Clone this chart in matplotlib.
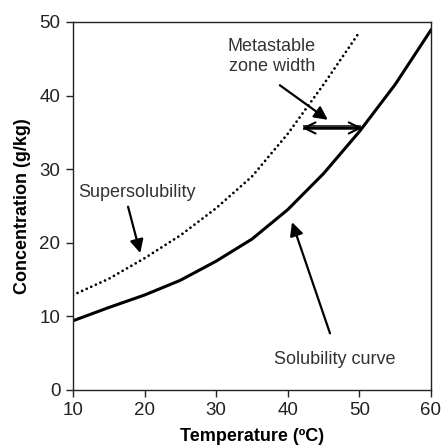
import numpy as np
import matplotlib
matplotlib.use("Agg")
import matplotlib.pyplot as plt

plt.rcParams['font.family'] = ['Liberation Sans', 'DejaVu Sans']

# solubility curve (solid)
sol_t = [10, 15, 20, 25, 30, 35, 40, 45, 50, 55, 60]
sol_c = [9.4, 11.2, 12.9, 14.9, 17.5, 20.5, 24.5, 29.4, 35.1, 41.5, 48.9]

# supersolubility curve (dotted)
sup_t = [10, 15, 20, 25, 30, 35, 40, 45, 50]
sup_c = [12.9, 15.1, 17.9, 21.0, 24.7, 29.0, 34.8, 41.5, 48.6]

x_ticks = [10, 20, 30, 40, 50, 60]
y_ticks = [0, 10, 20, 30, 40, 50]

fig = plt.figure(figsize=(4.42, 4.48), dpi=100)
ax = fig.add_axes([0.165, 0.1295, 0.81, 0.8215])

ax.plot(sol_t, sol_c, color='black', lw=2.2, solid_joinstyle='round')
ax.plot(sup_t, sup_c, color='black', lw=2.0, linestyle=(0, (0.01, 1.8)),
        dash_capstyle='round')

ax.set_xlim(10, 60)
ax.set_ylim(0, 50)
ax.set_xticks(x_ticks)
ax.set_yticks(y_ticks)
ax.tick_params(direction='out', length=5, width=1, labelsize=13.5, colors='#222222', pad=4)
for s in ax.spines.values():
    s.set_linewidth(1)
    s.set_color('#222222')

ax.set_xlabel('Temperature (ºC)', fontsize=13, fontweight='bold', labelpad=6)
ax.set_ylabel('Concentration (g/kg)', fontsize=13, fontweight='bold', labelpad=6)

tc = '#333333'
arr = dict(arrowstyle='-|>', color='black', lw=1.6, mutation_scale=20, shrinkA=0, shrinkB=0)

ax.text(37.8, 45.3, 'Metastable\nzone width', ha='center', va='center', fontsize=13,
        color=tc, linespacing=1.25)
ax.annotate('', xy=(45.6, 36.7), xytext=(38.9, 41.4), arrowprops=arr)

# double arrow for zone width: open heads, hollow shaft
ax.annotate('', xy=(42.0, 35.6), xytext=(50.4, 35.6),
            arrowprops=dict(arrowstyle='<->', color='black', lw=1.5, mutation_scale=20,
                            shrinkA=0, shrinkB=0))
ax.plot([42.2, 50.2], [35.8, 35.8], color='black', lw=1.1, solid_capstyle='butt')
ax.plot([42.2, 50.2], [35.4, 35.4], color='black', lw=1.1, solid_capstyle='butt')
ax.plot([42.6, 49.8], [35.6, 35.6], color='white', lw=0.8, solid_capstyle='butt')

ax.text(18.9, 26.8, 'Supersolubility', ha='center', va='center', fontsize=13, color=tc)
ax.annotate('', xy=(19.4, 18.6), xytext=(17.7, 24.9), arrowprops=arr)

ax.text(46.5, 4.1, 'Solubility curve', ha='center', va='center', fontsize=13, color=tc)
ax.annotate('', xy=(40.6, 22.8), xytext=(45.9, 7.7), arrowprops=arr)

fig.savefig('out.png', dpi=100)
